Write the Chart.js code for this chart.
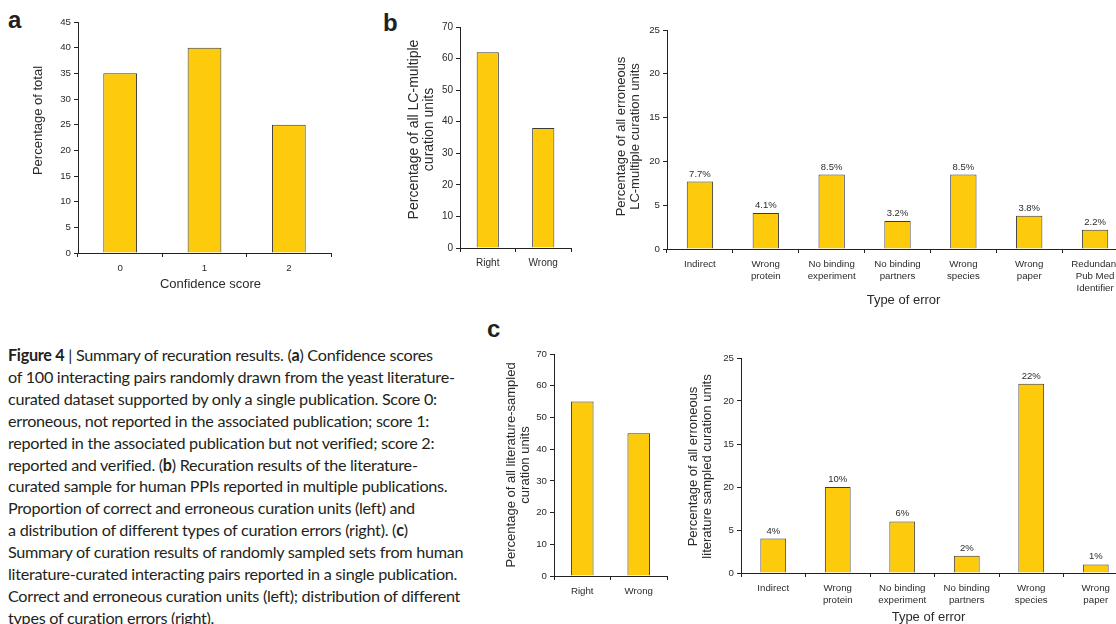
<!DOCTYPE html>
<html>
<head>
<meta charset="utf-8">
<script src="https://cdn.jsdelivr.net/npm/chart.js@4.4.1/dist/chart.umd.min.js"></script>
<style>
  body { margin: 0; width: 1116px; height: 624px; overflow: hidden; background: #fff; position: relative; }
  .box { position: absolute; }
  .letter { position: absolute; font: bold 24px "Liberation Sans", Arial, sans-serif; line-height: 24px; color: #231f20; }
  .caption { position: absolute; left: 8px; top: 344px; font-family: Lato, "Liberation Sans", sans-serif;
    font-size: 16.2px; letter-spacing: -0.28px; line-height: 21.9px; color: #231f20; white-space: nowrap; }
</style>
</head>
<body>
<div class="letter" style="left:8px;top:8px">a</div>
<div class="letter" style="left:383px;top:11px">b</div>
<div class="letter" style="left:487px;top:317px">c</div>

<div class="box" id="boxA"><canvas id="chartA"></canvas></div>
<div class="box" id="boxB1"><canvas id="chartB1"></canvas></div>
<div class="box" id="boxB2"><canvas id="chartB2"></canvas></div>
<div class="box" id="boxC1"><canvas id="chartC1"></canvas></div>
<div class="box" id="boxC2"><canvas id="chartC2"></canvas></div>

<div class="caption">
<b>Figure 4</b> | Summary of recuration results. (<b>a</b>) Confidence scores<br>
of 100 interacting pairs randomly drawn from the yeast literature-<br>
curated dataset supported by only a single publication. Score 0:<br>
erroneous, not reported in the associated publication; score 1:<br>
reported in the associated publication but not verified; score 2:<br>
reported and verified. (<b>b</b>) Recuration results of the literature-<br>
curated sample for human PPIs reported in multiple publications.<br>
Proportion of correct and erroneous curation units (left) and<br>
a distribution of different types of curation errors (right). (<b>c</b>)<br>
Summary of curation results of randomly sampled sets from human<br>
literature-curated interacting pairs reported in a single publication.<br>
Correct and erroneous curation units (left); distribution of different<br>
types of curation errors (right).
</div>

<script>
// data
const scoreLabels = ["0", "1", "2"];
const scoreValues = [35, 40, 25];

const rightWrongLabels = ["Right", "Wrong"];
const multipleValues = [62, 38];
const sampledValues = [55, 45];

const errorLabelsMultiple = [["Indirect"], ["Wrong", "protein"], ["No binding", "experiment"], ["No binding", "partners"],
  ["Wrong", "species"], ["Wrong", "paper"], ["Redundant", "Pub Med", "Identifier"]];
const errorValuesMultiple = [7.7, 4.1, 8.5, 3.2, 8.5, 3.8, 2.2];

const errorLabelsSampled = [["Indirect"], ["Wrong", "protein"], ["No binding", "experiment"], ["No binding", "partners"],
  ["Wrong", "species"], ["Wrong", "paper"]];
const errorValuesSampled = [4, 10, 6, 2, 22, 1];

// the original prints "20" where 10 should be
const errorTickLabels = ["0", "5", "20", "15", "20", "25"];

const FONT = '"Liberation Sans", Arial, sans-serif';
const INK = '#2b2b2b';

const axisTitles = {
  id: 'axisTitles',
  afterDraw(chart, args, opts) {
    const { ctx, chartArea: a } = chart;
    ctx.save();
    ctx.fillStyle = INK;
    ctx.textAlign = 'center';
    ctx.textBaseline = 'middle';
    ctx.font = `${opts.ySize || 13}px ${FONT}`;
    ctx.save();
    ctx.translate(a.left - opts.yGap, (a.top + a.bottom) / 2 + (opts.yShift || 0));
    ctx.rotate(-Math.PI / 2);
    opts.y.forEach((line, i) => ctx.fillText(line, 0, i * (opts.yLine || 14.5)));
    ctx.restore();
    if (opts.x) {
      ctx.font = `13px ${FONT}`;
      ctx.fillText(opts.x, (a.left + a.right) / 2 + (opts.xShift || 0), a.bottom + opts.xGap);
    }
    ctx.restore();
  }
};

const valueTags = {
  id: 'valueTags',
  afterDatasetsDraw(chart, args, opts) {
    if (!opts.show) return;
    const { ctx } = chart;
    const values = chart.data.datasets[0].data;
    ctx.save();
    ctx.font = `9.5px ${FONT}`;
    ctx.fillStyle = INK;
    ctx.textAlign = 'center';
    ctx.textBaseline = 'alphabetic';
    chart.getDatasetMeta(0).data.forEach((bar, i) => {
      ctx.fillText(values[i] + '%', bar.x, bar.y - 5);
    });
    ctx.restore();
  }
};

function BarPanel({ id, labels, values, yMax, yStep, yTickLabels, area, tickSize = 9.7, titles, tags = false }) {
  const { L, T, R, B, ML, MT, MR, MB } = area;
  const box = document.getElementById('box' + id);
  box.style.left = (L - ML) + 'px';
  box.style.top = (T - MT) + 'px';
  box.style.width = (R - L + ML + MR) + 'px';
  box.style.height = (B - T + MT + MB) + 'px';

  const tickFont = { size: tickSize, family: FONT, lineHeight: 1.25 };
  return new Chart(document.getElementById('chart' + id), {
    type: 'bar',
    data: {
      labels,
      datasets: [{
        data: values,
        backgroundColor: '#FDCB0B',
        borderColor: '#3a3a3a',
        borderWidth: 1,
        barPercentage: 0.8,
        categoryPercentage: 0.5
      }]
    },
    options: {
      responsive: true,
      maintainAspectRatio: false,
      animation: false,
      layout: { padding: { top: MT, right: MR, left: 0, bottom: 0 } },
      plugins: {
        legend: { display: false },
        tooltip: { enabled: false },
        axisTitles: titles,
        valueTags: { show: tags }
      },
      scales: {
        x: {
          grid: { display: true, offset: true, drawOnChartArea: false, drawTicks: true, tickLength: 4, color: '#222' },
          border: { display: true, color: '#222', width: 1 },
          ticks: { color: INK, padding: 5, font: tickFont, maxRotation: 0, autoSkip: false },
          afterFit: (s) => { s.height = MB; }
        },
        y: {
          min: 0,
          max: yMax,
          grid: { drawOnChartArea: false, drawTicks: true, tickLength: 4, color: '#222' },
          border: { display: true, color: '#222', width: 1 },
          ticks: {
            stepSize: yStep,
            padding: 3,
            color: INK,
            font: tickFont,
            callback: (v, i) => yTickLabels ? yTickLabels[i] : v
          },
          afterFit: (s) => { s.width = ML; }
        }
      }
    },
    plugins: [axisTitles, valueTags]
  });
}

BarPanel({
  id: 'A', labels: scoreLabels, values: scoreValues, yMax: 45, yStep: 5,
  area: { L: 78, T: 22, R: 331, B: 253, ML: 78, MT: 12, MR: 10, MB: 45 },
  titles: { y: ["Percentage of total"], yGap: 40, yShift: -17, x: "Confidence score", xGap: 31, xShift: 6 }
});

BarPanel({
  id: 'B1', labels: rightWrongLabels, values: multipleValues, yMax: 70, yStep: 10, tickSize: 10,
  area: { L: 460, T: 27, R: 571, B: 248, ML: 60, MT: 12, MR: 8, MB: 30 },
  titles: { y: ["Percentage of all LC-multiple", "curation units"], ySize: 14, yLine: 15, yGap: 46, yShift: -8 }
});

BarPanel({
  id: 'B2', labels: errorLabelsMultiple, values: errorValuesMultiple, yMax: 25, yStep: 5, yTickLabels: errorTickLabels, tags: true,
  area: { L: 667, T: 30, R: 1128, B: 249, ML: 60, MT: 12, MR: 10, MB: 62 },
  titles: { y: ["Percentage of all erroneous", "LC-multiple curation units"], yGap: 46, yShift: -3, x: "Type of error", xGap: 51, xShift: 6 }
});

BarPanel({
  id: 'C1', labels: rightWrongLabels, values: sampledValues, yMax: 70, yStep: 10,
  area: { L: 554, T: 354, R: 667, B: 576, ML: 56, MT: 12, MR: 8, MB: 30 },
  titles: { y: ["Percentage of all literature-sampled", "curation units"], yGap: 43, yShift: 0 }
});

BarPanel({
  id: 'C2', labels: errorLabelsSampled, values: errorValuesSampled, yMax: 25, yStep: 5, yTickLabels: errorTickLabels, tags: true,
  area: { L: 741, T: 358, R: 1128, B: 573, ML: 60, MT: 12, MR: 10, MB: 52 },
  titles: { y: ["Percentage of all erroneous", "literature sampled curation units"], yGap: 48, yShift: 1, x: "Type of error", xGap: 44, xShift: -6 }
});
</script>
</body>
</html>
